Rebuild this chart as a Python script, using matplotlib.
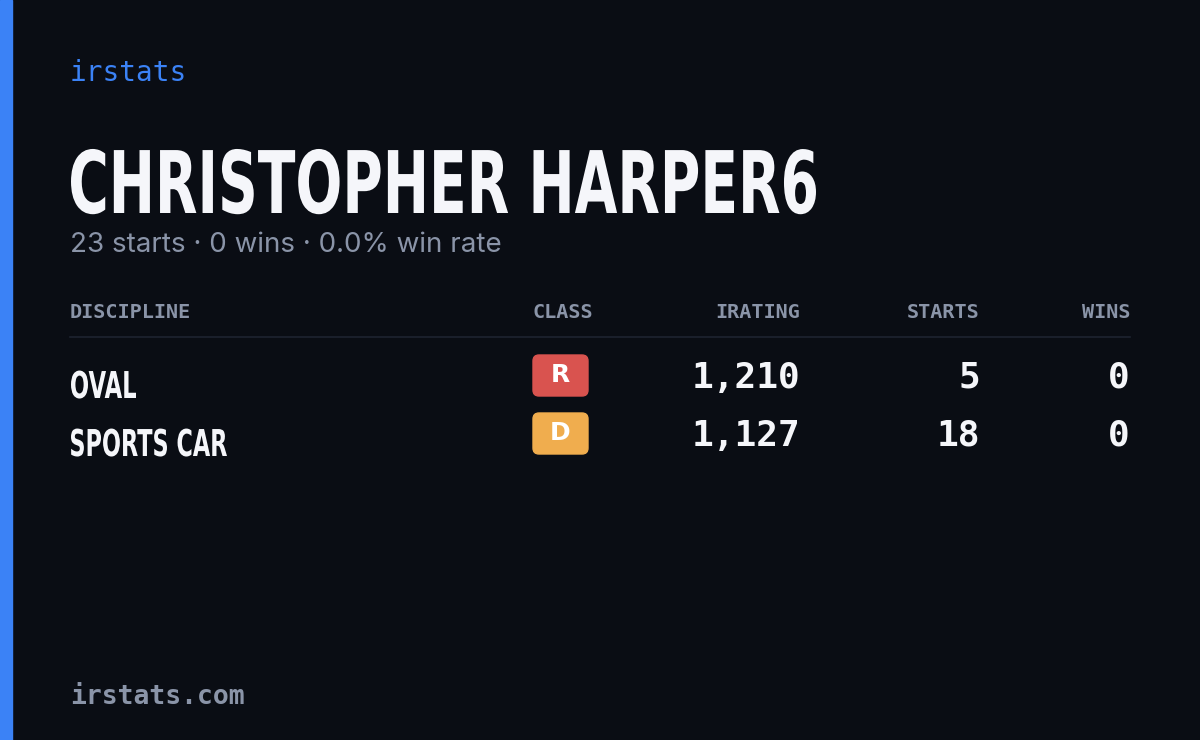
import matplotlib
matplotlib.use("Agg")
import matplotlib.pyplot as plt
from matplotlib.patches import Rectangle, FancyBboxPatch, PathPatch
from matplotlib.textpath import TextPath
from matplotlib.font_manager import FontProperties
from matplotlib.transforms import Affine2D

name = "CHRISTOPHER HARPER6"
starts_total = 23
wins_total = 0
win_rate = 0.0
disciplines = ["OVAL", "SPORTS CAR"]
classes = ["R", "D"]
class_colors = ["#d9534f", "#f0ad4e"]
iratings = [1210, 1127]
starts = [5, 18]
wins = [0, 0]
headers = ["DISCIPLINE", "CLASS", "IRATING", "STARTS", "WINS"]

W, H = 1200, 740
fig = plt.figure(figsize=(12, 7.4), dpi=100)
fig.patch.set_facecolor("#0a0d14")
ax = fig.add_axes([0, 0, 1, 1])
ax.set_xlim(0, W); ax.set_ylim(H, 0); ax.axis("off")
ax.add_patch(Rectangle((0, 0), 12, H, color="#3b82f6"))

bold = FontProperties(family="DejaVu Sans", weight="bold")

def cond_text(s, x, baseline, cap_px, width_px, color):
    size = cap_px / 0.73
    tp = TextPath((0, 0), s, size=size, prop=bold)
    ext = tp.get_extents()
    sx = width_px / ext.width
    tr = Affine2D().translate(-ext.x0, 0).scale(sx, -1).translate(x, baseline) + ax.transData
    ax.add_patch(PathPatch(tp, transform=tr, color=color, lw=0))

mono = "DejaVu Sans Mono"
ax.text(70, 73, "irstats", color="#3b82f6", fontsize=20, family=mono, va="center")
cond_text(name, 71, 213, 63, 745, "#f5f6fa")
ax.text(70, 245, f"{starts_total} starts · {wins_total} wins · {win_rate:.1f}% win rate",
        color="#8a94a8", fontsize=20, family="Inter", va="center")

hx = [70, 593, 800, 980, 1130]
ha = ["left", "right", "right", "right", "right"]
for x, h, a in zip(hx, headers, ha):
    ax.text(x, 313, h, color="#8a94a8", fontsize=14.5, family=mono, weight="bold", ha=a, va="center")
ax.plot([70, 1130], [337, 337], color="#1e2330", lw=1.2)

rows_y = [383, 441]
widths = [65, 156]
for i, y in enumerate(rows_y):
    cond_text(disciplines[i], 71, y + 15, 27, widths[i], "#f5f6fa")
    ax.add_patch(FancyBboxPatch((533, y - 28), 55, 41, boxstyle="round,pad=0,rounding_size=6",
                                color=class_colors[i]))
    ax.text(560.5, y - 8, classes[i], color="white", fontsize=18, family="DejaVu Sans", weight="bold",
            ha="center", va="center")
    for x, v in [(800, f"{iratings[i]:,}"), (980, str(starts[i])), (1130, str(wins[i]))]:
        ax.text(x, y - 5, v, color="#f5f6fa", fontsize=26, family=mono, weight="bold", ha="right", va="center")

ax.text(70, 697, "irstats.com", color="#8a94a8", fontsize=19, family=mono, weight="bold", va="center")
fig.savefig("out.png", dpi=100, facecolor=fig.get_facecolor())
